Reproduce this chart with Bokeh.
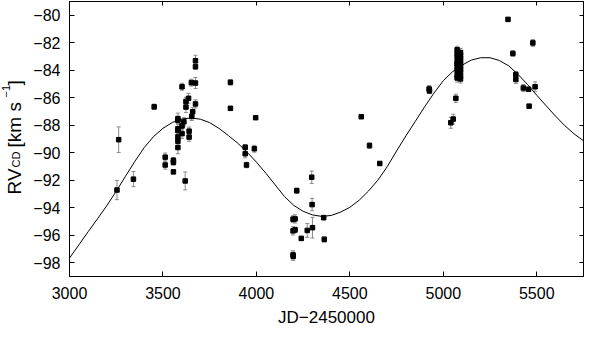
from bokeh.plotting import figure
from bokeh.layouts import row
from bokeh.models import ColumnDataSource, LinearAxis, FixedTicker, Label, Range1d, CustomLabelingPolicy
from bokeh.embed import file_html
from bokeh.resources import INLINE

# ---- data ----
jd = [3254, 3263, 3342, 3453, 3512, 3512, 3556, 3556, 3556,
      3580, 3580, 3580, 3580, 3580, 3580, 3580,
      3602, 3602, 3602, 3612, 3619, 3623, 3623, 3637, 3640, 3640, 3652, 3654, 3659,
      3674, 3674, 3674, 3674,
      3861, 3861, 3940, 3940, 3947, 3989, 3996,
      4196, 4207, 4196, 4207, 4196, 4197, 4216, 4240, 4272, 4296, 4298, 4300, 4360, 4363,
      4561, 4605, 4660,
      4924, 4926, 5040, 5053, 5067,
      5074, 5074, 5074, 5074, 5074, 5074, 5074, 5074, 5074,
      5083, 5083,
      5092, 5092, 5092, 5092, 5092, 5092, 5092, 5092, 5092, 5092,
      5346, 5372, 5388, 5388, 5428, 5456, 5459, 5479, 5491]
rv = [-92.71, -89.05, -91.92, -86.66, -90.32, -90.89, -90.55, -90.70, -91.39,
      -87.52, -87.64, -88.25, -88.39, -88.85, -89.16, -89.62,
      -85.20, -88.05, -88.61, -87.75, -92.05, -86.27, -86.68, -86.04, -88.43, -88.86, -84.90, -87.36, -87.02,
      -83.31, -83.74, -84.93, -86.45,
      -84.88, -86.77, -89.60, -90.07, -90.89, -89.71, -87.45,
      -94.83, -94.81, -95.68, -95.61, -97.43, -97.53, -92.76, -96.23, -95.65, -91.78, -93.77, -95.45, -94.72, -96.30,
      -87.38, -89.48, -90.78,
      -85.36, -85.50, -87.82, -87.55, -86.04,
      -82.51, -82.78, -83.06, -83.40, -83.53, -83.74, -84.01, -84.35, -84.56,
      -83.26, -84.08,
      -82.71, -82.92, -83.12, -83.33, -83.53, -83.74, -83.94, -84.15, -84.42, -84.63,
      -80.30, -82.78, -84.31, -84.67, -85.29, -85.38, -86.61, -82.01, -85.20]
err = [0.70, 0.93, 0.55, 0.20, 0.30, 0.30, 0.20, 0.20, 0.15,
       0.40, 0.30, 0.40, 0.30, 0.40, 0.30, 0.45,
       0.25, 0.30, 0.35, 0.30, 0.65, 0.30, 0.40, 0.35, 0.30, 0.30, 0.25, 0.30, 0.30,
       0.40, 0.20, 0.40, 0.30,
       0.20, 0.10, 0.20, 0.30, 0.20, 0.25, 0.10,
       0.25, 0.30, 0.30, 0.20, 0.30, 0.30, 0.20, 0.15, 0.50, 0.45, 0.45, 0.75, 0.15, 0.20,
       0.10, 0.20, 0.10,
       0.25, 0.20, 0.40, 0.35, 0.30,
       0.25, 0.30, 0.25, 0.30, 0.25, 0.30, 0.25, 0.30, 0.30,
       0.30, 0.30,
       0.30, 0.25, 0.30, 0.25, 0.30, 0.25, 0.30, 0.25, 0.30, 0.30,
       0.10, 0.20, 0.20, 0.30, 0.25, 0.10, 0.10, 0.25, 0.35]

curve_jd = list(range(3000, 5751, 50))
curve_rv = [-97.66, -96.70, -95.74, -94.80, -93.84, -92.80, -91.70, -90.62, -89.62, -88.82,
            -88.22, -87.80, -87.55, -87.47, -87.56, -87.81, -88.23, -88.75, -89.30, -89.96,
            -90.68, -91.48, -92.33, -93.18, -93.83, -94.26, -94.52, -94.63, -94.56, -94.32,
            -93.97, -93.45, -92.78, -91.99, -91.01, -89.87, -88.77, -87.72, -86.66, -85.66,
            -84.76, -84.10, -83.63, -83.26, -83.09, -83.09, -83.29, -83.68, -84.30, -85.03,
            -85.82, -86.58, -87.33, -88.03, -88.63, -89.13]

x_ticks = [3000, 3500, 4000, 4500, 5000, 5500]
x_tick_labels = ["3000", "3500", "4000", "4500", "5000", "5500"]
y_ticks = [-98, -96, -94, -92, -90, -88, -86, -84, -82, -80]
y_tick_labels = ["\u221298", "\u221296", "\u221294", "\u221292", "\u221290",
                 "\u221288", "\u221286", "\u221284", "\u221282", "\u221280"]

FONT = "Liberation Sans"

src = ColumnDataSource(dict(
    jd=jd, rv=rv,
    lo=[r - e for r, e in zip(rv, err)],
    hi=[r + e for r, e in zip(rv, err)],
))

H = 329
LW = 30          # width of the strip holding the rotated y-axis title
W = 584 - LW
p = figure(width=W, height=H, output_backend="svg", toolbar_location=None,
           x_range=Range1d(3000, 5750), y_range=Range1d(-99, -79),
           min_border_left=67 - LW, min_border_right=1, min_border_top=1, min_border_bottom=49)
p.xgrid.visible = False
p.ygrid.visible = False
p.outline_line_color = "black"
p.outline_line_width = 1
p.background_fill_color = "white"
p.border_fill_color = "white"

# error bars
p.segment(x0="jd", y0="lo", x1="jd", y1="hi", source=src, line_color="#8a8a8a", line_width=1)
p.scatter(x="jd", y="lo", source=src, marker="dash", size=4, line_color="#8a8a8a", line_width=1)
p.scatter(x="jd", y="hi", source=src, marker="dash", size=4, line_color="#8a8a8a", line_width=1)

# model curve
p.line(curve_jd, curve_rv, line_color="black", line_width=1)

# data points
p.scatter(x="jd", y="rv", source=src, marker="square", size=4.5, fill_color="black", line_color="black")

def style_axis(ax, labels=True):
    ax.axis_line_color = "black"
    ax.major_tick_line_color = "black"
    ax.major_tick_in = 5
    ax.major_tick_out = 0
    ax.minor_tick_line_color = None
    ax.major_label_text_font = FONT
    ax.major_label_text_color = "black"
    if labels:
        ax.major_label_text_font_size = "16px"
    else:
        ax.major_label_text_font_size = "0px"
        ax.major_label_standoff = 0
        ax.major_label_policy = CustomLabelingPolicy(code="""
            for (const i of Array.from(indices)) {
                if (typeof indices.unset === "function") indices.unset(i)
                else indices.delete(i)
            }
            return indices
        """)

p.xaxis.ticker = FixedTicker(ticks=x_ticks)
p.yaxis.ticker = FixedTicker(ticks=y_ticks)
p.xaxis.major_label_overrides = dict(zip(x_ticks, x_tick_labels))
p.yaxis.major_label_overrides = dict(zip(y_ticks, y_tick_labels))
style_axis(p.xaxis[0])
style_axis(p.yaxis[0])
p.xaxis.major_label_standoff = 10
p.yaxis.major_label_standoff = 9
p.xaxis.axis_label = "JD\u22122450000"
p.xaxis.axis_label_text_font = FONT
p.xaxis.axis_label_text_font_size = "17px"
p.xaxis.axis_label_text_font_style = "normal"
p.xaxis.axis_label_text_color = "black"
p.xaxis.axis_label_standoff = 6

top = LinearAxis(ticker=FixedTicker(ticks=x_ticks))
style_axis(top, labels=False)
top.major_tick_in = 4
p.add_layout(top, "above")
right = LinearAxis(ticker=FixedTicker(ticks=y_ticks))
style_axis(right, labels=False)
right.major_tick_in = 4
p.add_layout(right, "right")

# strip with the rotated y title: RV_CD [km s^-1]
# (its frame is aligned with the main frame; screen units measured from frame bottom)
t = figure(width=LW, height=H, output_backend="svg", toolbar_location=None,
           x_range=Range1d(0, LW), y_range=Range1d(0, 1),
           min_border=0, x_axis_type=None, y_axis_type=None)
t.xgrid.visible = False
t.ygrid.visible = False
t.outline_line_color = None
t.background_fill_color = "white"
t.border_fill_color = "white"

big, small = 19, 11
# (text, font size, baseline x inside strip, start measured up from frame bottom)
pieces = [("RV", big, 14, 82),
          ("CD", small, 15, 109),
          ("[km s", big, 14, 129),
          ("\u22121", small, 5, 179),
          ("]", big, 14, 191)]
for txt, fs, bx, by in pieces:
    t.add_layout(Label(x=bx, y=by, x_units="screen", y_units="screen", text=txt,
                       angle=1.5707963, text_font=FONT, text_font_size=f"{fs}px",
                       text_color="black", text_align="left", text_baseline="alphabetic"))

layout = row(t, p, spacing=0)
open("out.html", "w").write(file_html(layout, INLINE))
